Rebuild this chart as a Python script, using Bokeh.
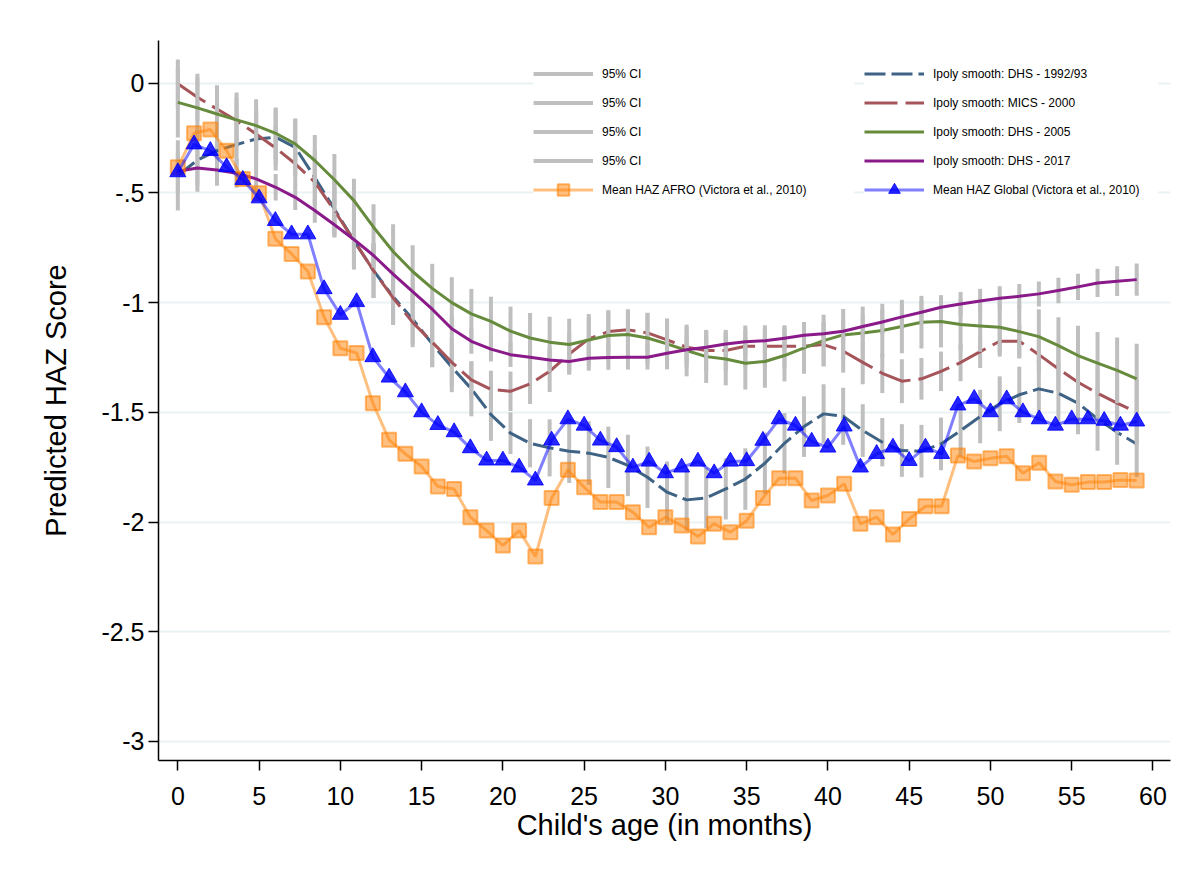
import numpy as np
from bokeh.plotting import figure
from bokeh.models import ColumnDataSource, FixedTicker, Legend, LegendItem, Range1d
from bokeh.embed import file_html
from bokeh.resources import INLINE

# ---------------------------------------------------------------------------
# Monthly mean HAZ (Victora et al., 2010), ages 0-59 months
# ---------------------------------------------------------------------------
age_months = list(range(60))

haz_afro = [-0.383, -0.228, -0.211, -0.307, -0.436, -0.501, -0.709, -0.778, -0.858, -1.066,
            -1.208, -1.229, -1.458, -1.625, -1.689, -1.747, -1.838, -1.849, -1.978, -2.039,
            -2.107, -2.039, -2.157, -1.890, -1.762, -1.841, -1.909, -1.909, -1.955, -2.024,
            -1.978, -2.016, -2.066, -2.008, -2.046, -1.994, -1.890, -1.800, -1.800, -1.902,
            -1.879, -1.826, -2.008, -1.978, -2.057, -1.986, -1.928, -1.928, -1.697, -1.724,
            -1.709, -1.700, -1.778, -1.730, -1.815, -1.830, -1.818, -1.818, -1.808, -1.811]

haz_global = [-0.405, -0.278, -0.308, -0.382, -0.440, -0.524, -0.627, -0.688, -0.688, -0.938,
              -1.055, -0.997, -1.248, -1.341, -1.408, -1.499, -1.557, -1.590, -1.663, -1.719,
              -1.719, -1.751, -1.810, -1.628, -1.531, -1.560, -1.628, -1.658, -1.751, -1.724,
              -1.777, -1.751, -1.724, -1.777, -1.724, -1.722, -1.629, -1.531, -1.560, -1.633,
              -1.660, -1.564, -1.751, -1.689, -1.660, -1.721, -1.660, -1.689, -1.468, -1.438,
              -1.499, -1.440, -1.499, -1.531, -1.560, -1.531, -1.531, -1.538, -1.560, -1.541]

# ---------------------------------------------------------------------------
# Local-polynomial smooths, evaluated on 50 grid points between 0 and 59 months
# ---------------------------------------------------------------------------
grid_age = np.linspace(0, 59, 50)

smooth_dhs_1992 = [-0.420, -0.350, -0.307, -0.279, -0.254, -0.246, -0.292, -0.430, -0.573, -0.717,
                   -0.854, -0.972, -1.075, -1.188, -1.294, -1.393, -1.510, -1.595, -1.641, -1.662,
                   -1.677, -1.686, -1.705, -1.742, -1.796, -1.864, -1.899, -1.890, -1.849, -1.804,
                   -1.732, -1.641, -1.565, -1.507, -1.518, -1.583, -1.636, -1.674, -1.677, -1.644,
                   -1.583, -1.519, -1.461, -1.420, -1.393, -1.413, -1.458, -1.530, -1.591, -1.644]

smooth_mics_2000 = [-0.002, -0.064, -0.117, -0.170, -0.231, -0.295, -0.367, -0.451, -0.580, -0.717,
                    -0.854, -0.978, -1.090, -1.180, -1.272, -1.352, -1.395, -1.404, -1.370, -1.313,
                    -1.234, -1.165, -1.132, -1.124, -1.138, -1.170, -1.203, -1.218, -1.218, -1.199,
                    -1.199, -1.199, -1.199, -1.191, -1.221, -1.272, -1.322, -1.358, -1.347, -1.313,
                    -1.273, -1.223, -1.176, -1.176, -1.237, -1.302, -1.363, -1.413, -1.458, -1.500]

smooth_dhs_2005 = [-0.087, -0.112, -0.140, -0.167, -0.193, -0.228, -0.276, -0.352, -0.440, -0.535,
                   -0.656, -0.767, -0.858, -0.935, -1.000, -1.051, -1.085, -1.130, -1.161, -1.180,
                   -1.191, -1.170, -1.150, -1.145, -1.161, -1.188, -1.218, -1.246, -1.257, -1.276,
                   -1.268, -1.241, -1.206, -1.173, -1.147, -1.138, -1.127, -1.109, -1.089, -1.086,
                   -1.100, -1.106, -1.112, -1.132, -1.155, -1.196, -1.241, -1.276, -1.309, -1.347]

smooth_dhs_2017 = [-0.401, -0.386, -0.395, -0.410, -0.436, -0.474, -0.520, -0.580, -0.645, -0.712,
                   -0.785, -0.870, -0.950, -1.030, -1.119, -1.176, -1.212, -1.237, -1.249, -1.261,
                   -1.268, -1.253, -1.250, -1.249, -1.249, -1.231, -1.215, -1.203, -1.188, -1.178,
                   -1.174, -1.162, -1.149, -1.142, -1.130, -1.109, -1.088, -1.065, -1.044, -1.021,
                   -1.006, -0.992, -0.980, -0.971, -0.960, -0.945, -0.928, -0.910, -0.902, -0.895]

# half-widths of the 95% confidence intervals at each grid point
ci_half_dhs_1992 = [0.160, 0.144, 0.140, 0.138, 0.135, 0.130, 0.128, 0.128, 0.130, 0.132,
                    0.124, 0.124, 0.113, 0.106, 0.114, 0.125, 0.120, 0.095, 0.110, 0.130,
                    0.145, 0.145, 0.140, 0.140, 0.140, 0.140, 0.140, 0.138, 0.140, 0.140,
                    0.140, 0.138, 0.138, 0.135, 0.130, 0.120, 0.110, 0.120, 0.120, 0.120,
                    0.120, 0.122, 0.125, 0.128, 0.132, 0.140, 0.142, 0.145, 0.148, 0.152]

ci_half_mics_2000 = [0.110, 0.107, 0.107, 0.105, 0.105, 0.103, 0.100, 0.100, 0.110, 0.130,
                     0.125, 0.124, 0.113, 0.114, 0.110, 0.085, 0.085, 0.090, 0.092, 0.094,
                     0.094, 0.094, 0.092, 0.090, 0.090, 0.090, 0.092, 0.094, 0.094, 0.095,
                     0.096, 0.096, 0.097, 0.098, 0.098, 0.100, 0.090, 0.100, 0.095, 0.090,
                     0.085, 0.075, 0.070, 0.075, 0.085, 0.100, 0.115, 0.128, 0.140, 0.150]

ci_half_dhs_2005 = [0.160, 0.140, 0.130, 0.125, 0.120, 0.118, 0.116, 0.116, 0.118, 0.100,
                    0.105, 0.124, 0.120, 0.112, 0.116, 0.114, 0.112, 0.112, 0.114, 0.116,
                    0.118, 0.118, 0.116, 0.115, 0.115, 0.116, 0.118, 0.120, 0.120, 0.120,
                    0.120, 0.118, 0.118, 0.118, 0.118, 0.120, 0.122, 0.122, 0.120, 0.118,
                    0.118, 0.118, 0.120, 0.122, 0.125, 0.130, 0.136, 0.142, 0.150, 0.160]

ci_half_dhs_2017 = [0.090, 0.080, 0.072, 0.066, 0.062, 0.060, 0.058, 0.056, 0.055, 0.055,
                    0.055, 0.055, 0.055, 0.055, 0.056, 0.057, 0.056, 0.056, 0.056, 0.057,
                    0.058, 0.057, 0.056, 0.056, 0.056, 0.056, 0.056, 0.056, 0.055, 0.056,
                    0.055, 0.055, 0.055, 0.055, 0.055, 0.055, 0.055, 0.055, 0.055, 0.055,
                    0.055, 0.055, 0.055, 0.056, 0.057, 0.058, 0.060, 0.064, 0.068, 0.074]

smooth_labels = ["Ipoly smooth: DHS - 1992/93", "Ipoly smooth: MICS - 2000",
                 "Ipoly smooth: DHS - 2005", "Ipoly smooth: DHS - 2017"]
smooth_values = [smooth_dhs_1992, smooth_mics_2000, smooth_dhs_2005, smooth_dhs_2017]
ci_halves = [ci_half_dhs_1992, ci_half_mics_2000, ci_half_dhs_2005, ci_half_dhs_2017]
smooth_colors = ["#3F6385", "#A5545A", "#678B3D", "#8A1A8A"]
smooth_dashes = ["21 6", "33 8", "solid", "solid"]

ci_label = "95% CI"
afro_label = "Mean HAZ AFRO (Victora et al., 2010)"
global_label = "Mean HAZ Global (Victora et al., 2010)"

x_ticks = list(range(0, 61, 5))
y_ticks = [0, -0.5, -1, -1.5, -2, -2.5, -3]
y_tick_labels = ["0", "-.5", "-1", "-1.5", "-2", "-2.5", "-3"]

FONT = "Liberation Sans"

# ---------------------------------------------------------------------------
p = figure(width=1195, height=870, output_backend="svg", toolbar_location=None,
           x_range=Range1d(-1.19, 61.08), y_range=Range1d(-3.087, 0.195),
           min_border_left=158, min_border_right=25, min_border_top=40,
           min_border_bottom=110)
p.outline_line_color = None
p.background_fill_color = "white"
p.border_fill_color = "white"

p.xgrid.visible = False
p.ygrid.ticker = FixedTicker(ticks=y_ticks)
p.ygrid.grid_line_color = "#EAF2F3"
p.ygrid.grid_line_width = 2

p.xaxis.ticker = FixedTicker(ticks=x_ticks)
p.yaxis.ticker = FixedTicker(ticks=y_ticks)
p.yaxis.major_label_overrides = {
    (int(t) if float(t).is_integer() else t): lab for t, lab in zip(y_ticks, y_tick_labels)
}
p.xaxis.axis_label = "Child's age (in months)"
p.yaxis.axis_label = "Predicted HAZ Score"

for ax in (p.xaxis[0], p.yaxis[0]):
    ax.axis_line_color = "black"
    ax.axis_line_width = 1.5
    ax.major_tick_line_color = "black"
    ax.major_tick_line_width = 1.5
    ax.major_tick_out = 10
    ax.major_tick_in = 0
    ax.minor_tick_line_color = None
    ax.major_label_text_font = FONT
    ax.major_label_text_font_size = "25px"
    ax.major_label_text_color = "black"
    ax.axis_label_text_font = FONT
    ax.axis_label_text_font_size = "29px"
    ax.axis_label_text_font_style = "normal"
    ax.axis_label_text_color = "black"

p.yaxis.major_label_standoff = 4
p.yaxis.axis_label_standoff = 26
p.xaxis.major_label_standoff = 16
p.xaxis.axis_label_standoff = 1

# ---------------------------------------------------------------------------
# Smooths with their confidence intervals (CI spikes drawn first, then the line)
ci_renderers = []
line_renderers = []
for fit, half, color, dash in zip(smooth_values, ci_halves, smooth_colors, smooth_dashes):
    fit_arr = np.array(fit)
    half_arr = np.array(half)
    src = ColumnDataSource(dict(age=grid_age, fit=fit_arr,
                                lo=fit_arr - half_arr, hi=fit_arr + half_arr))
    ci_r = p.segment(x0="age", y0="lo", x1="age", y1="hi", source=src,
                     line_color="#BFBFBF", line_width=4, line_cap="butt")
    ln_r = p.line(x="age", y="fit", source=src, line_color=color, line_width=3,
                  line_dash=dash, line_cap="butt", line_join="round")
    ci_renderers.append(ci_r)
    line_renderers.append(ln_r)

# Monthly means
means = ColumnDataSource(dict(age=age_months, afro=haz_afro, glob=haz_global))
afro_line = p.line(x="age", y="afro", source=means, line_color="#FF8000",
                   line_alpha=0.5, line_width=3)
afro_pts = p.scatter(x="age", y="afro", source=means, marker="square", size=14,
                     fill_color="#FF8000", fill_alpha=0.5,
                     line_color="#FF8000", line_alpha=0.55, line_width=2)
glob_line = p.line(x="age", y="glob", source=means, line_color="#0000FF",
                   line_alpha=0.5, line_width=3)
glob_pts = p.scatter(x="age", y="glob", source=means, marker="triangle", size=16,
                     fill_color="#0000FF", fill_alpha=0.85,
                     line_color="#0000FF", line_alpha=0.85, line_width=1)

# ---------------------------------------------------------------------------
# Two-column legend inside the plot area
left_items = [LegendItem(label=ci_label, renderers=[r]) for r in ci_renderers]
left_items.append(LegendItem(label=afro_label, renderers=[afro_line, afro_pts]))
right_items = [LegendItem(label=lab, renderers=[r]) for lab, r in zip(smooth_labels, line_renderers)]
right_items.append(LegendItem(label=global_label, renderers=[glob_line, glob_pts]))


def make_legend(items, loc, label_width):
    lg = Legend(items=items, location=loc, orientation="vertical",
                glyph_width=60, glyph_height=29, spacing=0, padding=4,
                label_standoff=9, label_width=label_width, label_height=20,
                label_text_font=FONT, label_text_font_size="12px",
                label_text_color="black",
                background_fill_color="white", background_fill_alpha=1.0,
                border_line_color=None, margin=0)
    return lg


p.add_layout(make_legend(left_items, (375, 556), 252), "center")
p.add_layout(make_legend(right_items, (706, 556), 225), "center")

open("out.html", "w").write(file_html(p, INLINE))
